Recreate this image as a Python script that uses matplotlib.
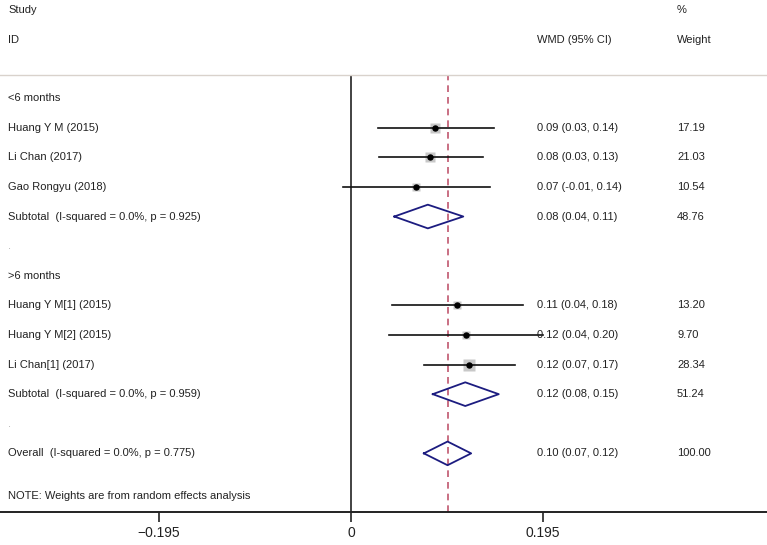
import matplotlib.pyplot as plt
import numpy as np

plt.rcParams['font.family'] = ['Liberation Sans', 'DejaVu Sans']

# ---- data ----
study_labels = ['Huang Y M (2015)', 'Li Chan (2017)', 'Gao Rongyu (2018)',
                'Huang Y M[1] (2015)', 'Huang Y M[2] (2015)', 'Li Chan[1] (2017)']
study_rows = [2, 3, 4, 8, 9, 10]
study_est = [0.085, 0.080, 0.066, 0.108, 0.117, 0.120]
study_lo = [0.027, 0.028, -0.008, 0.042, 0.039, 0.074]
study_hi = [0.145, 0.134, 0.141, 0.175, 0.195, 0.166]
study_ci_text = ['0.09 (0.03, 0.14)', '0.08 (0.03, 0.13)', '0.07 (-0.01, 0.14)',
                 '0.11 (0.04, 0.18)', '0.12 (0.04, 0.20)', '0.12 (0.07, 0.17)']
study_weight = [17.19, 21.03, 10.54, 13.20, 9.70, 28.34]

pool_labels = ['Subtotal  (I-squared = 0.0%, p = 0.925)',
               'Subtotal  (I-squared = 0.0%, p = 0.959)',
               'Overall  (I-squared = 0.0%, p = 0.775)']
pool_rows = [5, 11, 13]
pool_est = [0.078, 0.116, 0.098]
pool_lo = [0.044, 0.083, 0.074]
pool_hi = [0.114, 0.150, 0.122]
pool_ci_text = ['0.08 (0.04, 0.11)', '0.12 (0.08, 0.15)', '0.10 (0.07, 0.12)']
pool_weight = ['48.76', '51.24', '100.00']

group_labels = ['<6 months', '>6 months']
group_rows = [1, 7]
dot_rows = [6, 12]

tick_vals = [-0.195, 0, 0.195]
tick_text = ['\u22120.195', '0', '0.195']

# ---- figure ----
W, H = 767, 545
fig = plt.figure(figsize=(W / 100, H / 100), dpi=100)
ax = fig.add_axes([0, 33 / H, 1, (512 - 75) / H])
ax.set_xlim(-351 / 985, 416 / 985)
ax.set_ylim(14.98, 0.22)

for s in ['left', 'right']:
    ax.spines[s].set_visible(False)
ax.spines['top'].set_color('#d9d2cc')
ax.spines['top'].set_linewidth(1.0)
ax.spines['bottom'].set_linewidth(1.4)
ax.spines['bottom'].set_color('#222222')
ax.set_yticks([])
ax.set_xticks(tick_vals)
ax.set_xticklabels(tick_text, fontsize=10, color='#222222')
ax.tick_params(axis='x', length=7, width=1.2, pad=3, color='#222222')

ax.axvline(0, color='#222222', lw=1.2)
ax.axvline(pool_est[2], color='#c0566e', lw=1.2, ls=(0, (4, 3)))

fs = 8.0
tc = '#222222'
tr = ax.get_yaxis_transform()
xl, xc, xw = 8 / W, 537 / W, 677 / W

# headers
ax.text(xl, -1.98, 'Study', transform=tr, fontsize=fs, va='center', color=tc, clip_on=False)
ax.text(xl, -0.96, 'ID', transform=tr, fontsize=fs, va='center', color=tc, clip_on=False)
ax.text(xc, -0.96, 'WMD (95% CI)', transform=tr, fontsize=fs, va='center', color=tc, clip_on=False)
ax.text(xw, -1.98, '%', transform=tr, fontsize=fs, va='center', color=tc, clip_on=False)
ax.text(xw, -0.96, 'Weight', transform=tr, fontsize=fs, va='center', color=tc, clip_on=False)

for lab, r in zip(group_labels, group_rows):
    ax.text(xl, r, lab, transform=tr, fontsize=fs, va='center', color=tc)
for r in dot_rows:
    ax.text(xl, r, '.', transform=tr, fontsize=fs, va='center', color='#aaaaaa')

# studies: grey box area ~ weight
for lab, r, e, lo, hi, ci, w in zip(study_labels, study_rows, study_est, study_lo,
                                    study_hi, study_ci_text, study_weight):
    side = 2.25 * np.sqrt(w)
    ax.plot([e], [r], 's', ms=side * 0.72, color='#c8c8c8', mec='none', zorder=2)
    ax.plot([lo, hi], [r, r], color='#111111', lw=1.2, zorder=3)
    ax.plot([e], [r], 'o', ms=3.6, color='black', zorder=4)
    ax.text(xl, r, lab, transform=tr, fontsize=fs, va='center', color=tc)
    ax.text(xc, r, ci, transform=tr, fontsize=fs, va='center', color=tc)
    ax.text(xw, r, '%.2f' % w, transform=tr, fontsize=fs, va='center', color=tc)

# pooled diamonds
hh = 0.40
for lab, r, e, lo, hi, ci, w in zip(pool_labels, pool_rows, pool_est, pool_lo,
                                    pool_hi, pool_ci_text, pool_weight):
    ax.plot([lo, e, hi, e, lo], [r, r - hh, r, r + hh, r], color='#1c1c80',
            lw=1.3, zorder=5)
    ax.text(xl, r, lab, transform=tr, fontsize=fs, va='center', color=tc)
    ax.text(xc, r, ci, transform=tr, fontsize=fs, va='center', color=tc)
    ax.text(xw, r, w, transform=tr, fontsize=fs, va='center', color=tc)

ax.text(xl, 14.45, 'NOTE: Weights are from random effects analysis', transform=tr,
        fontsize=fs, va='center', color=tc)

fig.savefig('out.png', dpi=100)
